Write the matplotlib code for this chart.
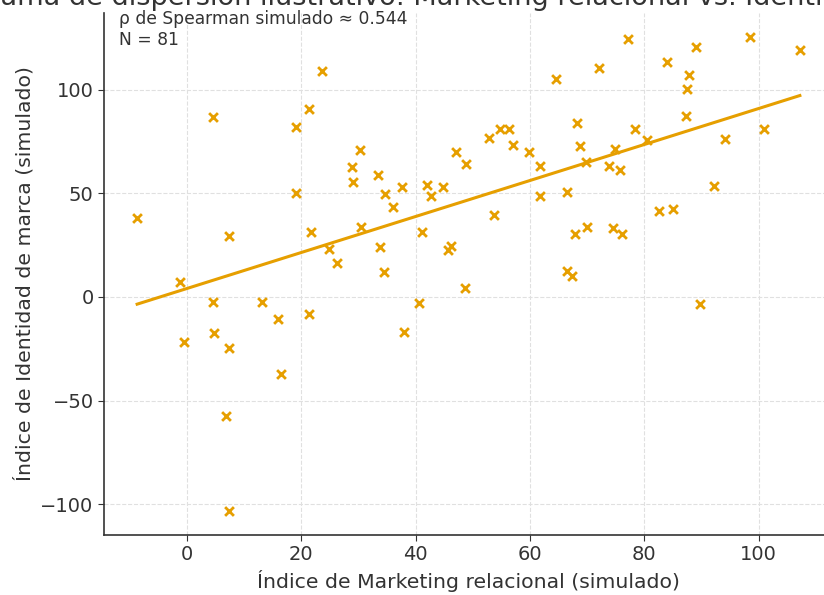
import matplotlib
matplotlib.use("Agg")
import matplotlib.pyplot as plt
import numpy as np

# valores (índices simulados)
mkt = [-8.7, 4.5, 7.4, 19.0, 21.4, 23.7, 19.0, 21.7, 24.9, 26.2, -1.2,
       28.8, 29.0, 30.2, 33.4, 34.7, 36.0, 37.6, 30.5, 33.7, 34.5,
       41.2, 42.0, 42.7, 44.8, 45.6, 46.2, 47.0, 48.8, 52.8, 54.7,
       56.3, 57.0, 59.8, 61.8, 61.8, 53.7, 64.6, 66.5, 68.3, 68.8,
       69.8, 70.0, 67.8, 66.4, 67.4, 77.2, 72.1, 83.9, 89.1, 98.4,
       107.2, 87.8, 87.5, 87.2, 78.3, 80.5, 74.8, 73.8, 75.8, 94.1,
       101.0, 92.1, 82.6, 85.1, 74.5, 76.1, 89.8, 4.5, 13.2, 15.9,
       21.4, -0.5, 4.7, 7.4, 16.4, 6.9, 7.4, 40.6, 37.9, 48.7]
ident = [38.3, 86.6, 29.5, 81.8, 90.8, 108.8, 50.1, 31.5, 23.0, 16.3, 7.3,
         62.5, 55.4, 71.0, 58.6, 49.8, 43.2, 53.0, 33.7, 24.0, 11.9,
         31.3, 54.1, 48.5, 53.0, 22.7, 24.6, 69.7, 64.3, 76.7, 81.2,
         81.0, 73.4, 69.7, 63.3, 48.9, 39.3, 105.2, 50.4, 83.9, 72.9,
         64.9, 33.5, 30.3, 12.7, 10.1, 124.2, 110.5, 113.4, 120.6, 125.5,
         119.3, 107.2, 100.3, 87.1, 81.2, 75.5, 71.5, 63.0, 61.0, 76.2,
         81.2, 53.3, 41.2, 42.4, 33.2, 30.4, -3.5, -2.3, -2.3, -10.8,
         -8.4, -21.6, -17.2, -24.8, -37.3, -57.3, -103.4, -3.0, -17.1, 4.2]
rho = 0.544

col = "#E69F00"
txt = "#333333"

x = np.array(mkt)
y = np.array(ident)
b, a = np.polyfit(x, y, 1)
xs = np.array([x.min(), x.max()])

fig = plt.figure(figsize=(8.24, 5.95), dpi=100)
ax = fig.add_axes([104/824, 60/595, 729/824, 522/595])

ax.scatter(x, y, marker="x", s=40, color=col, linewidths=2, zorder=3)
ax.plot(xs, a + b*xs, color=col, lw=2.2, zorder=2)

ax.grid(True, ls="--", color="#e0e0e0", lw=0.8)
ax.set_axisbelow(True)
for s in ("top", "right"):
    ax.spines[s].set_visible(False)
for s in ("left", "bottom"):
    ax.spines[s].set_color("#333333")
    ax.spines[s].set_linewidth(1.2)
ax.tick_params(labelsize=14, colors=txt, length=4)
ax.set_yticks([-100, -50, 0, 50, 100])

ax.set_title("Diagrama de dispersión ilustrativo: Marketing relacional vs. Identidad de marca",
             fontsize=19.5, color=txt)
ax.set_xlabel("Índice de Marketing relacional (simulado)", fontsize=14.7, color=txt)
ax.set_ylabel("Índice de Identidad de marca (simulado)", fontsize=14.7, color=txt)
ax.text(0.02, 1.005, f"ρ de Spearman simulado ≈ {rho:.3f}\nN = {len(x)}",
        transform=ax.transAxes, ha="left", va="top", fontsize=12.3, color=txt)

fig.savefig("out.png", dpi=100)
